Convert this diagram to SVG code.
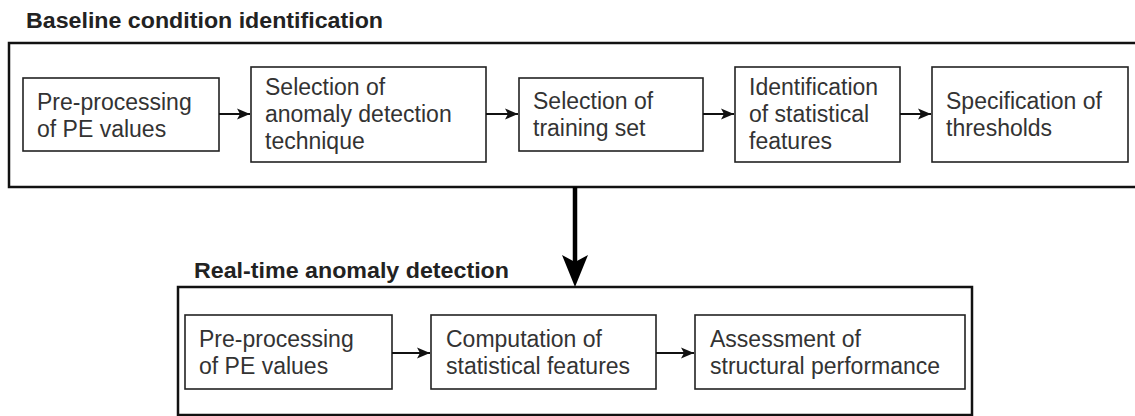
<svg xmlns="http://www.w3.org/2000/svg" width="1135" height="416" viewBox="0 0 1135 416">
<style>
.title{font-family:"Liberation Sans",Arial,sans-serif;font-weight:bold;font-size:22px;fill:#222}
.lbl{font-family:"Liberation Sans",Arial,sans-serif;font-size:23px;fill:#333}
.outer{fill:none;stroke:#111;stroke-width:2.5}
.box{fill:#fff;stroke:#222;stroke-width:1.6}
.conn{stroke:#111;stroke-width:2;fill:none}
</style>
<defs>
<marker id="arr" viewBox="0 0 14 12" refX="13" refY="6" markerWidth="14" markerHeight="12" markerUnits="userSpaceOnUse" orient="auto">
<path d="M0,0.5 L13,6 L0,11.5 L3,6 Z" fill="#111"/>
</marker>
</defs>
<rect width="1135" height="416" fill="#fff"/>
<g id="baseline-stage">
<text class="title" x="26" y="27.5" textLength="357" lengthAdjust="spacingAndGlyphs">Baseline condition identification</text>
<rect class="outer" x="9" y="43" width="1140" height="144"/>
</g>
<g id="realtime-stage">
<text class="title" x="194" y="278" textLength="315" lengthAdjust="spacingAndGlyphs">Real-time anomaly detection</text>
<rect class="outer" x="178" y="287" width="794" height="128"/>
</g>
<g id="b1"><rect class="box" x="23" y="78" width="196" height="73"/><text class="lbl" x="37" y="110">Pre-processing</text><text class="lbl" x="37" y="137">of PE values</text></g>
<g id="b2"><rect class="box" x="251" y="67" width="235" height="95"/><text class="lbl" x="265" y="95">Selection of</text><text class="lbl" x="265" y="122">anomaly detection</text><text class="lbl" x="265" y="149">technique</text></g>
<g id="b3"><rect class="box" x="519" y="78" width="184" height="73"/><text class="lbl" x="533" y="109">Selection of</text><text class="lbl" x="533" y="136">training set</text></g>
<g id="b4"><rect class="box" x="735" y="67" width="165" height="95"/><text class="lbl" x="749" y="95">Identification</text><text class="lbl" x="749" y="122">of statistical</text><text class="lbl" x="749" y="149">features</text></g>
<g id="b5"><rect class="box" x="932" y="67" width="196" height="95"/><text class="lbl" x="946" y="109">Specification of</text><text class="lbl" x="946" y="136">thresholds</text></g>
<g id="r1"><rect class="box" x="185" y="315" width="207" height="74"/><text class="lbl" x="199" y="347">Pre-processing</text><text class="lbl" x="199" y="374">of PE values</text></g>
<g id="r2"><rect class="box" x="431" y="315" width="225" height="74"/><text class="lbl" x="446" y="347">Computation of</text><text class="lbl" x="446" y="374">statistical features</text></g>
<g id="r3"><rect class="box" x="695" y="315" width="270" height="74"/><text class="lbl" x="710" y="347">Assessment of</text><text class="lbl" x="710" y="374">structural performance</text></g>
<g id="connectors">
<line class="conn" x1="219" y1="114" x2="250" y2="114" marker-end="url(#arr)"/>
<line class="conn" x1="486" y1="114" x2="518" y2="114" marker-end="url(#arr)"/>
<line class="conn" x1="703" y1="114" x2="734" y2="114" marker-end="url(#arr)"/>
<line class="conn" x1="900" y1="114" x2="931" y2="114" marker-end="url(#arr)"/>
<line class="conn" x1="392" y1="353" x2="430" y2="353" marker-end="url(#arr)"/>
<line class="conn" x1="656" y1="353" x2="694" y2="353" marker-end="url(#arr)"/>
<line x1="575" y1="187" x2="575" y2="270" stroke="#000" stroke-width="4.5"/>
<path d="M562,255 L575,262 L588,255 L575,287 Z" fill="#000"/>
</g>
</svg>
